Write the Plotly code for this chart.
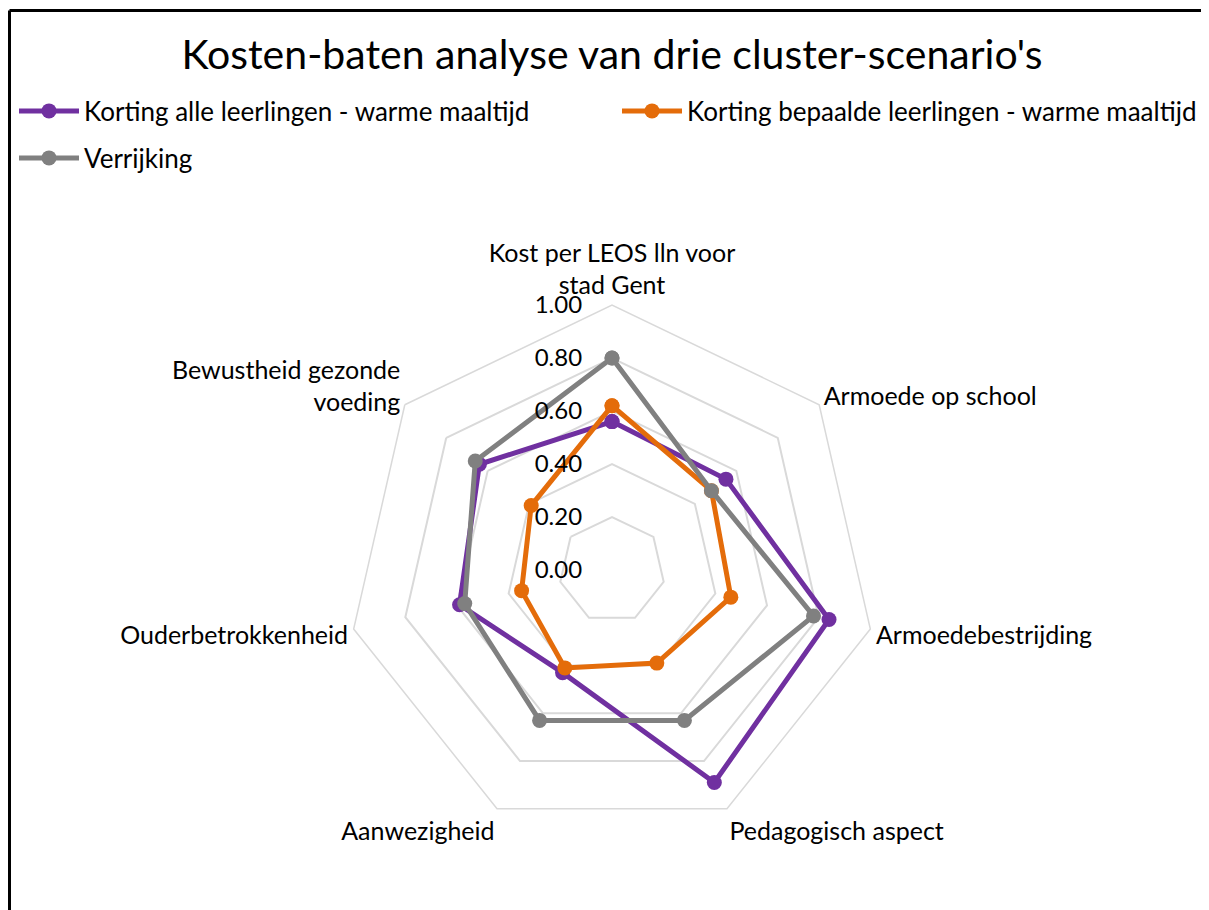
import plotly.graph_objects as go

categories = [
    "Kost per LEOS lln voor<br>stad Gent",
    "Armoede op school",
    "Armoedebestrijding",
    "Pedagogisch aspect",
    "Aanwezigheid",
    "Ouderbetrokkenheid",
    "Bewustheid gezonde<br>voeding",
]
korting_alle = [0.56, 0.55, 0.84, 0.89, 0.43, 0.59, 0.64]
korting_bepaalde = [0.62, 0.48, 0.46, 0.39, 0.41, 0.35, 0.39]
verrijking = [0.80, 0.48, 0.78, 0.63, 0.63, 0.57, 0.66]
series_names = [
    "Korting alle leerlingen - warme maaltijd",
    "Korting bepaalde leerlingen - warme maaltijd",
    "Verrijking",
]
colors = ["#7030A0", "#E46C0A", "#808080"]
tick_vals = [0, 0.2, 0.4, 0.6, 0.8, 1.0]
title_text = "Kosten-baten analyse van drie cluster-scenario's"

FONT = "Lato"
W, H = 1209, 910
OFF = 8  # page body margin offset

fig = go.Figure()
for name, vals, col, lg in zip(series_names,
                               [korting_alle, korting_bepaalde, verrijking],
                               colors, ["legend", "legend2", "legend3"]):
    fig.add_trace(go.Scatterpolar(
        r=vals + vals[:1],
        theta=categories + categories[:1],
        mode="lines+markers",
        name=name,
        line=dict(color=col, width=5),
        marker=dict(color=col, size=15),
        legend=lg,
    ))

def leg(xpx, ypx):
    return dict(orientation="h", x=(xpx - OFF) / W, xanchor="left",
                y=1 - (ypx - OFF) / H, yanchor="middle", itemwidth=60,
                font=dict(size=26, family=FONT, color="#000000"),
                bgcolor="rgba(0,0,0,0)")

cx, cy, rad = 612 - OFF, 570 - OFF, 265
fig.update_layout(
    width=W, height=H,
    margin=dict(l=0, r=0, t=0, b=0),
    paper_bgcolor="white",
    font=dict(family=FONT, color="#000000", size=25),
    title=dict(text=title_text, x=(612 - OFF) / W, xanchor="center",
               y=1 - (55 - OFF) / H, yanchor="middle",
               font=dict(size=41, family=FONT, color="#000000")),
    polar=dict(
        domain=dict(x=[(cx - rad) / W, (cx + rad) / W],
                    y=[(H - cy - rad) / H, (H - cy + rad) / H]),
        bgcolor="white",
        gridshape="linear",
        angularaxis=dict(direction="clockwise", rotation=90,
                         showgrid=False, showline=True, linecolor="#D9D9D9",
                         linewidth=1.5, ticks="",
                         tickfont=dict(size=25, family=FONT, color="#000000")),
        radialaxis=dict(range=[0, 1], tickvals=tick_vals, tickformat=".2f",
                        angle=90, tickangle=90, side="counterclockwise",
                        showline=False, ticks="outside", ticklen=21,
                        tickcolor="rgba(0,0,0,0)", gridcolor="#D9D9D9",
                        gridwidth=1.5,
                        tickfont=dict(size=24, family=FONT, color="#000000")),
    ),
    legend=leg(14, 111),
    legend2=leg(617, 111),
    legend3=leg(14, 158),
    showlegend=True,
)
# chart frame (top and left edges visible)
fig.add_shape(type="line", xref="paper", yref="paper",
              x0=1.5 / W, x1=1.01, y0=1 - 2.5 / H, y1=1 - 2.5 / H,
              line=dict(color="#000000", width=3))
fig.add_shape(type="line", xref="paper", yref="paper",
              x0=1.5 / W, x1=1.5 / W, y0=-0.01, y1=1 - 2.5 / H,
              line=dict(color="#000000", width=3))

fig.write_html("out.html")
